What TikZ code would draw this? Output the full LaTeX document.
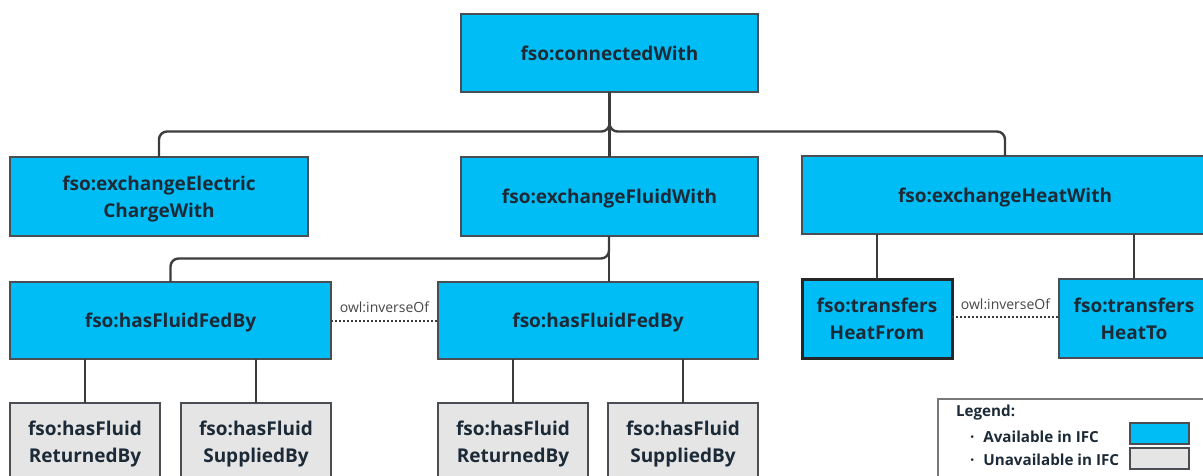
\documentclass[tikz,border=0pt]{standalone}
\usepackage{fontspec}
\setmainfont{Open Sans}
\begin{document}
\begin{tikzpicture}[x=1pt,y=-1pt,
  every node/.style={inner sep=0pt, outer sep=0pt},
  prop/.style={draw=boxline, line width=2.2pt, fill=ifcblue, text=ink,
    font=\fontsize{19}{27}\selectfont\bfseries, align=center, text depth=0pt},
  missing/.style={prop, fill=nogray},
  link/.style={draw=wire, line width=2.4pt, rounded corners=8pt},
  inverse/.style={draw=wire, line width=2pt, dotted},
  inverselabel/.style={text=labelgray, font=\fontsize{14}{16}\selectfont},
  legendtext/.style={text=ink, font=\fontsize{15.2}{18}\selectfont\bfseries, anchor=west},
  swatch/.style={draw=boxline, line width=1.2pt}
]
\definecolor{ifcblue}{RGB}{0,190,245}
\definecolor{nogray}{RGB}{229,229,229}
\definecolor{boxline}{RGB}{74,78,82}
\definecolor{wire}{RGB}{60,60,60}
\definecolor{ink}{RGB}{28,42,55}
\definecolor{labelgray}{RGB}{70,70,70}
\definecolor{legendline}{RGB}{120,120,120}

\useasboundingbox (0,0) rectangle (1203,475);
\begin{scope}
\clip (0,0) rectangle (1203,475);

% top-level property
\node[prop, minimum width=297pt, minimum height=78pt] (top) at (609.5,53) {fso:connectedWith};

% second level
\node[prop, minimum width=298pt, minimum height=79pt] (elec) at (159,196.5) {fso:exchangeElectric\\ChargeWith};
\node[prop, minimum width=297pt, minimum height=79pt] (fluid) at (609.5,196.5) {fso:exchangeFluidWith};
\node[prop, minimum width=406pt, minimum height=78pt] (heat) at (1005,195) {fso:exchangeHeatWith};

% third level
\node[prop, minimum width=321pt, minimum height=77pt] (fedA) at (170.5,320.5) {fso:hasFluidFedBy};
\node[prop, minimum width=320pt, minimum height=77pt] (fedB) at (598,320.5) {fso:hasFluidFedBy};
\node[prop, draw=black!85, line width=3pt, minimum width=150pt, minimum height=79pt] (hfrom) at (877,318.5) {fso:transfers\\HeatFrom};
\node[prop, minimum width=150pt, minimum height=79pt] (hto) at (1134,318.5) {fso:transfers\\HeatTo};

% fourth level (not available in IFC)
\node[missing, minimum width=150pt, minimum height=78pt] (retA) at (85,442) {fso:hasFluid\\ReturnedBy};
\node[missing, minimum width=150pt, minimum height=78pt] (supA) at (256,442) {fso:hasFluid\\SuppliedBy};
\node[missing, minimum width=150pt, minimum height=78pt] (retB) at (513,442) {fso:hasFluid\\ReturnedBy};
\node[missing, minimum width=150pt, minimum height=78pt] (supB) at (683,442) {fso:hasFluid\\SuppliedBy};

% tree connectors
\coordinate (hub) at (609.5,131.5);
\draw[link] (top.south) -- (fluid.north);
\draw[link] (elec.north) |- (hub) -- (top.south);
\draw[link] (heat.north) |- (hub) -- (top.south);

\coordinate (hubB) at (609,258.5);
\draw[link] (fluid.south -| hubB) -- (fedB.north -| hubB);
\draw[link] (fedA.north) |- (hubB) -- (fluid.south -| hubB);

\draw[link] (heat.south -| hfrom) -- (hfrom.north);
\draw[link] (heat.south -| hto) -- (hto.north);

\draw[link] (fedA.south -| retA) -- (retA.north);
\draw[link] (fedA.south -| supA) -- (supA.north);
\draw[link] (fedB.south -| retB) -- (retB.north);
\draw[link] (fedB.south -| supB) -- (supB.north);

% inverse relations
\draw[inverse] (fedA.east) -- node[inverselabel, above=8pt] {owl:inverseOf} (fedB.west);
\draw[inverse] ([yshift=1.5pt]hfrom.east) -- node[inverselabel, above=7pt] {owl:inverseOf} ([yshift=1.5pt]hto.west);

% legend
\node[draw=legendline, line width=1.3pt, minimum width=280pt, minimum height=100pt, anchor=north west] (legend) at (938,399) {};
\node[legendtext] (legendtitle) at (956,413) {Legend:};
\node[legendtext] (availtext) at (970,437) {\textperiodcentered\hspace{9pt}Available in IFC};
\node[legendtext] (unavailtext) at (970,460) {\textperiodcentered\hspace{9pt}Unavailable in IFC};
\node[swatch, fill=ifcblue, minimum width=59pt, minimum height=21pt, anchor=north west] (availswatch) at (1130,423) {};
\node[swatch, fill=nogray, minimum width=59pt, minimum height=21pt, anchor=north west] (unavailswatch) at (1130,448) {};
\end{scope}
\end{tikzpicture}
\end{document}
